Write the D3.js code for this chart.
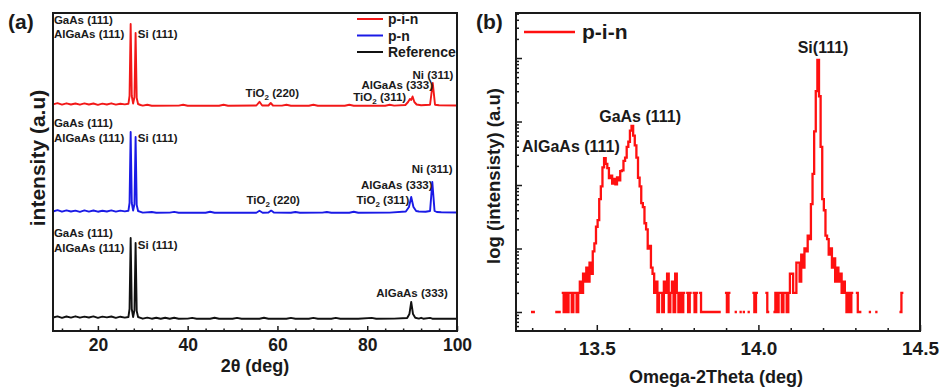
<!DOCTYPE html>
<html lang="en">
<head>
<meta charset="utf-8">
<title>XRD p-i-n / p-n</title>
<style>
  body { margin: 0; background: #fff; }
  svg text { font-family: "Liberation Sans", Arial, sans-serif; font-weight: bold; fill: #1a1a1a; }
  .frame { fill: none; stroke: #1a1a1a; stroke-width: 2; }
  .tick line { stroke: #1a1a1a; stroke-width: 1.5; }
</style>
</head>
<body>
<div id="chart"></div>
<script src="https://d3js.org/d3.v7.min.js"></script>
<script>
// ---- panel (a): 2theta scans, intensity above each baseline ----
const referenceScan = [
  [10,1.5],[11,2.6],[12,1.2],[13,2.5],[14,1.4],[15,2.7],[16,1.3],[17,2.4],[18,1.5],[19,2.6],
  [20,1.1],[21,2.4],[22,1.6],[23,2.5],[24,1.2],[25,2.3],[26,1.4],[26.8,2],[27.05,10],[27.3,81],
  [27.55,10],[27.85,2],[28.15,9],[28.4,76],[28.65,8],[28.95,2],[29.5,1.2],[30,0.3],[31,1.4],[32,0.3],
  [33,1.3],[34,0.3],[35,1.3],[36,0.3],[37,1.2],[38,0.3],[40,0.4],[41,1.1],[42,0.3],[45,0.3],
  [46,1.2],[47,0.3],[50,0.3],[51,1.1],[52,0.3],[56,0.3],[57,1.2],[58,0.3],[62,0.3],[63,1.1],
  [64,0.3],[67,0.3],[68,1.1],[69,0.3],[72,0.3],[73,1.1],[74,0.3],[78,0.3],[81,1.1],[82,0.3],
  [86,0.4],[88.9,1],[89.4,5],[89.8,17],[90.2,5],[90.7,1.2],[91.5,0.4],[92,1.2],[92.5,0.3],[94,1.1],
  [94.5,0.3],[96,0.3],[100,0.3]
];
const pnScan = [
  [10,1.5],[11,2.8],[12,1.3],[13,2.6],[14,1.5],[15,2.4],[16,1.2],[17,2.6],[18,1.4],[19,2.5],
  [20,1.3],[21,2.3],[22,1.5],[23,2.6],[24,1.4],[25,2.4],[26,1.6],[26.8,2.2],[27.05,10],[27.3,81],
  [27.55,10],[27.85,2.5],[28.15,9],[28.4,76],[28.65,8],[28.95,2],[29.5,1.2],[30,0.4],[32,1],[33,0.3],
  [36,0.4],[37,1.1],[38,0.3],[44,0.3],[45,1.3],[46,0.3],[55.3,0.3],[56,2.2],[56.7,0.3],[58,0.4],
  [58.6,2.4],[59.2,0.4],[63,0.3],[64,1],[65,0.3],[70,0.4],[71,1],[72,0.3],[76,0.3],[77,1.2],
  [78,0.3],[85,0.4],[88.6,1.5],[89.3,6],[89.8,16],[90.3,6],[90.9,2],[91.5,1.5],[93,1.2],[94,2],
  [94.5,31],[95,2],[95.5,1],[96.5,0.8],[100,0.5]
];
const pinScan = [
  [10,1.6],[11,2.8],[12,1.4],[13,2.7],[14,1.5],[15,2.5],[16,1.3],[17,2.6],[18,1.5],[19,2.5],
  [20,1.2],[21,2.4],[22,1.5],[23,2.7],[24,1.4],[25,2.3],[26,1.6],[26.8,2.2],[27.05,10],[27.3,82],
  [27.55,10],[27.85,2.5],[28.15,9],[28.4,73],[28.65,8],[28.95,2],[29.5,1],[30,0.4],[31,1.2],[32,0.3],
  [38,0.4],[39,1.2],[40,0.3],[47,0.3],[48,1.2],[49,0.3],[55.3,0.5],[56,4.2],[56.6,0.5],[58,0.5],
  [58.5,3],[59,0.5],[61,0.4],[62,1.2],[63,0.3],[67,0.3],[68,1.2],[69,0.3],[75,0.3],[76,1.2],
  [77,0.3],[84,0.3],[85,1.2],[86,0.4],[88.5,1],[89.1,4],[89.5,7],[89.8,6],[90.1,9.5],[90.5,4],
  [91,1.5],[92,0.8],[94,1.3],[94.6,23],[95.1,1.3],[96,0.7],[100,0.5]
];
const scanNames = ["p-i-n", "p-n", "Reference"];
const scanColors = ["#f21818", "#1a1ae6", "#111111"];
const scanOffsets = [225, 118, 12];

// peak labels: [text, 2theta at text start, height above baseline]
const pinLabels = [["GaAs (111)",10.2,82],["AlGaAs (111)",10.2,68],["Si (111)",28.9,68],
  ["TiO₂ (220)",52.9,9],["AlGaAs (333)",78.7,17],["TiO₂ (311)",76.9,5.5],["Ni (311)",90.1,27.5]];
const pnLabels = [["GaAs (111)",10.2,86],["AlGaAs (111)",10.2,71],["Si (111)",28.9,71],
  ["TiO₂ (220)",53.1,9],["AlGaAs (333)",78.6,24],["TiO₂ (311)",77.6,9],["Ni (311)",89.9,40]];
const refLabels = [["GaAs (111)",10.2,82],["AlGaAs (111)",10.2,67],["Si (111)",28.9,70],
  ["AlGaAs (333)",82,22]];
const twoThetaTicks = [20, 40, 60, 80, 100];

// ---- panel (b): omega-2theta counts (0 = no count, not drawn) ----
const omegaStart = 13.27, omegaStep = 0.005;
const omegaCounts = [
  0,0,0,0,0,0,1,1,0,0,
  0,0,0,0,0,0,0,0,0,0,
  0,1,1,1,0,2,1,2,1,2,
  2,1,2,2,1,2,3,2,4,3,
  5,3,6,4,9,12,22,28,60,95,
  190,266,215,185,128,140,105,125,102,132,
  118,165,170,240,270,400,480,720,850,600,
  420,270,130,95,52,45,25,20,10,11,
  5,4,2,3,1,2,2,1,3,2,
  4,1,2,3,1,4,2,1,2,1,
  2,0,2,1,2,0,2,1,2,0,
  2,1,1,1,1,1,1,1,1,1,
  1,1,1,0,0,0,2,1,2,0,
  0,0,1,0,0,1,0,1,0,0,
  1,0,0,2,1,2,0,0,0,0,
  0,2,1,0,0,0,1,2,1,2,
  2,1,2,2,1,2,4,4,2,2,
  6,6,3,8,5,10,9,16,14,50,
  150,700,3000,9300,2500,400,60,40,16,14,
  8,10,5,7,3,5,3,4,2,3,
  2,1,2,1,2,0,0,2,1,1,
  0,0,0,0,0,1,0,0,0,1,
  0,0,0,0,0,0,0,0,0,0,
  0,0,0,0,1,2,0
];
// label: [text, omega at text centre, counts at baseline]
const omegaLabels = [["Si(111)",14.2,12000],["GaAs (111)",13.634,980],["AlGaAs (111)",13.42,330]];
const omegaTicks = [13.5, 14.0, 14.5];

const width = 945, height = 390;
const svg = d3.select("#chart").append("svg")
  .attr("width", width).attr("height", height);

// ===== panel (a) =====
const xA = d3.scaleLinear().domain([10, 100]).range([53, 457]);
const yA = d3.scaleLinear().domain([0, 318]).range([331, 13]);

const scans = [pinScan, pnScan, referenceScan];
const labelSets = [pinLabels, pnLabels, refLabels];

const gA = svg.append("g");
scans.forEach((scan, i) => {
  const line = d3.line()
    .x(d => xA(d[0]))
    .y(d => yA(d[1] + scanOffsets[i]));
  gA.append("path")
    .datum(scan)
    .attr("d", line)
    .attr("fill", "none")
    .attr("stroke", scanColors[i])
    .attr("stroke-width", 1.9)
    .attr("stroke-linejoin", "round");
});

function addLabel(g, t, x, y, size, subSize) {
  const txt = g.append("text").attr("x", x).attr("y", y).style("font-size", size + "px");
  if (t.startsWith("TiO₂")) {
    txt.append("tspan").text("TiO");
    txt.append("tspan").text("2").style("font-size", subSize + "px").attr("dy", 3);
    txt.append("tspan").text(t.slice(4)).attr("dy", -3);
  } else {
    txt.text(t);
  }
  return txt;
}

labelSets.forEach((set, i) => {
  set.forEach(l => addLabel(gA, l[0], xA(l[1]), yA(scanOffsets[i] + l[2]), 11.5, 8));
});

// legend (a)
scanNames.forEach((n, i) => {
  const y = 19 + i * 16.5;
  gA.append("line").attr("x1", 357).attr("x2", 383).attr("y1", y).attr("y2", y)
    .attr("stroke", scanColors[i]).attr("stroke-width", 2);
  gA.append("text").attr("x", 388).attr("y", y + 5).style("font-size", "14px").text(n);
});

// axes (a)
const xAxisA = gA.append("g").attr("transform", "translate(0,331)")
  .call(d3.axisBottom(xA).tickValues(twoThetaTicks).tickSize(-5).tickFormat(d3.format("d")));
xAxisA.select(".domain").remove();
xAxisA.selectAll("text").attr("dy", null).attr("y", 20).style("font-size", "17.5px");
const minorA = gA.append("g").attr("transform", "translate(0,331)")
  .call(d3.axisBottom(xA).tickValues(d3.range(12, 100, 4).filter(v => v % 20 !== 0))
    .tickSize(-2.5).tickFormat(""));
minorA.select(".domain").remove();

gA.append("rect").attr("class", "frame")
  .attr("x", 53).attr("y", 13).attr("width", 404).attr("height", 318);

gA.append("text").attr("x", 255).attr("y", 372).attr("text-anchor", "middle")
  .style("font-size", "18px").text("2θ (deg)");
gA.append("text").attr("transform", "translate(45,158) rotate(-90)")
  .attr("text-anchor", "middle").style("font-size", "21px").text("intensity (a.u)");
gA.append("text").attr("x", 8).attr("y", 29).style("font-size", "21px").text("(a)");

// ===== panel (b) =====
const xB = d3.scaleLinear().domain([13.25, 14.5]).range([516, 920]);
const yB = d3.scaleLog().domain([0.502, 51170]).range([331, 13]);

const omegaData = omegaCounts.map((c, i) => [omegaStart + i * omegaStep, c]);
const gB = svg.append("g");

const lineB = d3.line()
  .defined(d => d[1] > 0)
  .curve(d3.curveStep)
  .x(d => xB(d[0]))
  .y(d => yB(d[1]));
gB.append("path")
  .datum(omegaData)
  .attr("d", lineB)
  .attr("fill", "none")
  .attr("stroke", "#ff1010")
  .attr("stroke-width", 2.3)
  .attr("stroke-linecap", "square");

omegaLabels.forEach(l => {
  addLabel(gB, l[0], xB(l[1]), yB(l[2]), 16, 10).attr("text-anchor", "middle");
});

// legend (b)
gB.append("line").attr("x1", 524).attr("x2", 575).attr("y1", 32).attr("y2", 32)
  .attr("stroke", "#ff1010").attr("stroke-width", 2.5);
gB.append("text").attr("x", 582).attr("y", 39).style("font-size", "21px").text("p-i-n");

// axes (b)
const xAxisB = gB.append("g").attr("transform", "translate(0,331)")
  .call(d3.axisBottom(xB).tickValues(omegaTicks).tickSize(-6).tickFormat(d3.format(".1f")));
xAxisB.select(".domain").remove();
xAxisB.selectAll("text").attr("dy", null).attr("y", 24).style("font-size", "19px");
const minorB = gB.append("g").attr("transform", "translate(0,331)")
  .call(d3.axisBottom(xB).tickValues(d3.range(133, 146).filter(v => v % 5 !== 0).map(v => v / 10))
    .tickSize(-3).tickFormat(""));
minorB.select(".domain").remove();

const decades = [1, 10, 100, 1000, 10000];
const yAxisB = gB.append("g").attr("transform", "translate(516,0)")
  .call(d3.axisLeft(yB).tickValues(decades).tickSize(-6).tickFormat(""));
yAxisB.select(".domain").remove();
const yMinorB = gB.append("g").attr("transform", "translate(516,0)")
  .call(d3.axisLeft(yB).tickValues(yB.ticks().filter(v => !decades.includes(v)))
    .tickSize(-3).tickFormat(""));
yMinorB.select(".domain").remove();

gB.append("rect").attr("class", "frame")
  .attr("x", 516).attr("y", 13).attr("width", 404).attr("height", 318);

gB.append("text").attr("x", 716).attr("y", 383).attr("text-anchor", "middle")
  .style("font-size", "18px").text("Omega-2Theta (deg)");
gB.append("text").attr("transform", "translate(500,176) rotate(-90)")
  .attr("text-anchor", "middle").style("font-size", "18.5px").text("log (intensisty) (a.u)");
gB.append("text").attr("x", 476).attr("y", 29).style("font-size", "21px").text("(b)");
</script>
</body>
</html>
